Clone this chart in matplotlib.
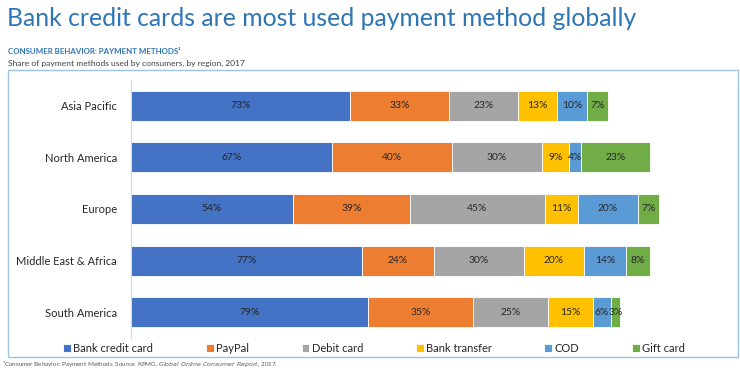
import matplotlib
matplotlib.use("Agg")
import matplotlib.pyplot as plt
from matplotlib.patches import Rectangle

regions = ["Asia Pacific", "North America", "Europe", "Middle East & Africa", "South America"]
methods = ["Bank credit card", "PayPal", "Debit card", "Bank transfer", "COD", "Gift card"]
bank_credit = [73, 67, 54, 77, 79]
paypal = [33, 40, 39, 24, 35]
debit = [23, 30, 45, 30, 25]
bank_transfer = [13, 9, 11, 20, 15]
cod = [10, 4, 20, 14, 6]
gift = [7, 23, 7, 8, 3]
series = [bank_credit, paypal, debit, bank_transfer, cod, gift]
colors = ["#4472C4", "#ED7D31", "#A5A5A5", "#FFC000", "#5B9BD5", "#70AD47"]

plt.rcParams['font.family'] = ['Lato', 'DejaVu Sans']

W, H = 740, 369
fig = plt.figure(figsize=(W / 100, H / 100), dpi=100)
fig.patch.set_facecolor("white")

# outer frame
fig.add_artist(Rectangle((8 / W, 1 - 357 / H), 730 / W, 287 / H, transform=fig.transFigure,
                         fill=False, edgecolor="#9DC3E6", linewidth=1.0))

fig.text(7 / W, 1 - 19 / H, "Bank credit cards are most used payment method globally",
         fontsize=17.8, color="#2E75B6", va="center", ha="left")
fig.text(8 / W, 1 - 52 / H, "CONSUMER BEHAVIOR: PAYMENT METHODS¹", fontsize=5.7, color="#2E75B6",
         fontweight="bold", va="center", ha="left")
fig.text(8 / W, 1 - 63 / H, "Share of payment methods used by consumers, by region, 2017", fontsize=6.1,
         color="#404040", va="center", ha="left")
fig.text(2 / W, 1 - 364 / H, "¹Consumer Behavior: Payment Methods. Source: KPMG, $\\it{Global\\ Online\\ Consumer\\ Report}$, 2017.",
         fontsize=4.5, color="#595959", va="center", ha="left")

ax = fig.add_axes([131 / W, 1 - 338 / H, 600 / W, 258 / H])
ypos = list(range(len(regions)))
left = [0] * len(regions)
handles = []
for vals, col, name in zip(series, colors, methods):
    b = ax.barh(ypos, vals, left=left, height=0.58, color=col, label=name, edgecolor="white", linewidth=0.6)
    handles.append(b)
    for y, v, l in zip(ypos, vals, left):
        ax.text(l + v / 2, y, f"{v}%", ha="center", va="center", fontsize=7.4, color="#262626")
    left = [a + b_ for a, b_ in zip(left, vals)]

ax.set_xlim(0, 200)
ax.set_ylim(4.5, -0.5)
ax.set_yticks(ypos)
ax.set_yticklabels(regions, fontsize=8, color="#262626")
ax.tick_params(axis="y", length=0, pad=10)
ax.set_xticks([])
for s in ["top", "right", "bottom"]:
    ax.spines[s].set_visible(False)
ax.spines["left"].set_color("#D9D9D9")
ax.spines["left"].set_linewidth(0.8)

fig.legend(handles=handles, labels=methods, loc="center", bbox_to_anchor=(374 / W, 1 - 348 / H),
           ncol=6, frameon=False, fontsize=8, handlelength=0.7, handleheight=0.7,
           handletextpad=0.2, columnspacing=4.75, labelcolor="#262626")

fig.savefig("out.png", dpi=100, facecolor="white")
